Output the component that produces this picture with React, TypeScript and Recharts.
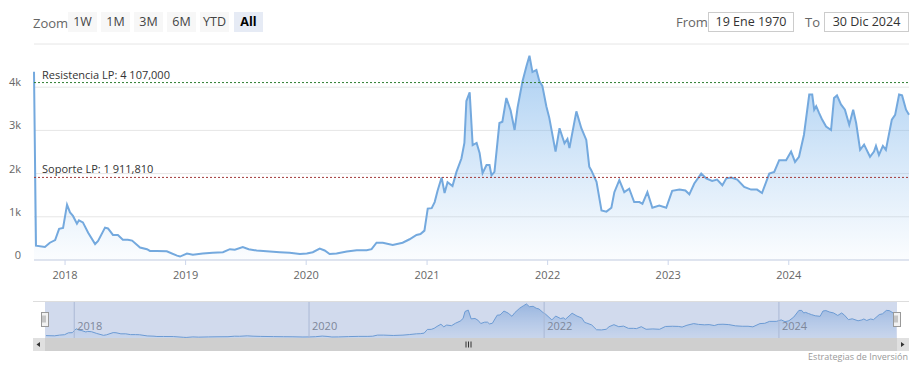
import { AreaChart, Area, XAxis, YAxis, CartesianGrid, ReferenceLine } from 'recharts';

// weekly-ish closes
const dates = [
  '2017-09-29', '2017-10-05', '2017-11-01', '2017-11-16', '2017-12-02', '2017-12-14', '2017-12-26',
  '2018-01-07', '2018-01-16', '2018-01-25', '2018-02-06', '2018-02-12', '2018-02-24', '2018-03-12',
  '2018-04-02', '2018-04-11', '2018-05-02', '2018-05-11', '2018-05-26', '2018-06-10', '2018-06-25',
  '2018-07-10', '2018-07-23', '2018-08-16', '2018-09-06', '2018-09-15', '2018-10-06', '2018-11-05',
  '2018-12-06', '2018-12-15', '2019-01-05', '2019-01-23', '2019-02-22', '2019-03-24', '2019-04-24',
  '2019-05-15', '2019-05-30', '2019-06-23', '2019-07-11', '2019-08-04', '2019-09-13', '2019-10-13',
  '2019-11-12', '2019-12-13', '2020-01-03', '2020-01-21', '2020-02-11', '2020-02-26', '2020-03-12',
  '2020-04-02', '2020-05-03', '2020-06-02', '2020-07-02', '2020-07-17', '2020-08-01', '2020-08-20',
  '2020-09-19', '2020-10-19', '2020-11-09', '2020-11-30', '2020-12-12', '2020-12-24', '2021-01-03',
  '2021-01-15', '2021-01-24', '2021-02-02', '2021-02-14', '2021-02-23', '2021-03-04', '2021-03-19',
  '2021-03-31', '2021-04-15', '2021-04-24', '2021-04-30', '2021-05-10', '2021-05-19', '2021-05-31',
  '2021-06-09', '2021-06-18', '2021-06-30', '2021-07-09', '2021-07-15', '2021-07-24', '2021-08-08',
  '2021-08-17', '2021-08-29', '2021-09-11', '2021-09-23', '2021-10-02', '2021-10-17', '2021-10-29',
  '2021-11-07', '2021-11-16', '2021-11-28', '2021-12-07', '2021-12-16', '2021-12-28', '2022-01-06',
  '2022-01-25', '2022-02-06', '2022-02-21', '2022-03-02', '2022-03-08', '2022-03-29', '2022-04-13',
  '2022-04-28', '2022-05-07', '2022-05-13', '2022-05-29', '2022-06-13', '2022-06-28', '2022-07-13',
  '2022-07-22', '2022-08-06', '2022-08-21', '2022-09-05', '2022-09-20', '2022-10-06', '2022-10-15',
  '2022-10-30', '2022-11-14', '2022-12-05', '2022-12-26', '2023-01-13', '2023-02-04', '2023-02-22',
  '2023-03-06', '2023-03-21', '2023-04-11', '2023-04-26', '2023-05-14', '2023-05-29', '2023-06-14',
  '2023-06-26', '2023-07-11', '2023-07-29', '2023-08-19', '2023-09-09', '2023-09-27', '2023-10-12',
  '2023-11-03', '2023-11-18', '2023-12-03', '2023-12-24', '2024-01-08', '2024-01-20', '2024-02-01',
  '2024-02-16', '2024-03-03', '2024-03-12', '2024-03-18', '2024-03-24', '2024-04-02', '2024-04-11',
  '2024-04-23', '2024-05-08', '2024-05-17', '2024-05-26', '2024-06-07', '2024-06-19', '2024-07-02',
  '2024-07-14', '2024-07-23', '2024-08-04', '2024-08-16', '2024-09-03', '2024-09-15', '2024-09-21',
  '2024-09-30', '2024-10-12', '2024-10-21', '2024-11-08', '2024-11-18', '2024-11-30', '2024-12-09',
  '2024-12-21', '2024-12-30',
];

const values = [
  4360, 330, 300, 400, 460, 720, 740,
  1280, 1100, 1020, 840, 920, 870, 630,
  370, 440, 750, 730, 580, 580, 470,
  470, 450, 290, 250, 210, 210, 200,
  100, 80, 150, 120, 150, 170, 180,
  250, 240, 300, 250, 220, 195, 180,
  170, 140, 150, 180, 265, 220, 140,
  150, 195, 225, 225, 250, 400, 400,
  350, 400, 480, 580, 600, 680, 1190,
  1200, 1340, 1610, 1910, 1550, 1800, 1710,
  2040, 2350, 2710, 3680, 3880, 2660, 2710,
  2480, 2010, 2200, 2200, 1960, 2040, 3170,
  3200, 3750, 3460, 3010, 3530, 4140, 4490,
  4730, 4350, 4400, 4140, 4030, 3560, 3290,
  2510, 3050, 2700, 2800, 2590, 3440, 3050,
  2780, 2160, 2080, 1810, 1145, 1120, 1210,
  1570, 1850, 1570, 1650, 1340, 1340, 1300,
  1570, 1210, 1260, 1210, 1600, 1630, 1610,
  1520, 1770, 2000, 1890, 1830, 1860, 1730,
  1890, 1910, 1860, 1690, 1630, 1630, 1550,
  2000, 2040, 2310, 2310, 2510, 2270, 2390,
  2900, 3830, 3830, 3480, 3560, 3400, 3250,
  3090, 3010, 3750, 3810, 3600, 3480, 3130,
  3480, 3170, 2550, 2670, 2390, 2510, 2640,
  2430, 2640, 2550, 3250, 3360, 3830, 3810,
  3480, 3360,
];

const yearTicks = ['2018-01-01', '2019-01-01', '2020-01-01', '2021-01-01', '2022-01-01', '2023-01-01', '2024-01-01'];
const navYearTicks = ['2018-01-01', '2020-01-01', '2022-01-01', '2024-01-01'];
const yTicks = [0, 1000, 2000, 3000, 4000, 5000];

const resistance = 4107;
const support = 1911.81;

const rangeButtons = ['1W', '1M', '3M', '6M', 'YTD', 'All'];
const fromText = '19 Ene 1970';
const toText = '30 Dic 2024';

const data = dates.map((d, i) => ({ t: Date.parse(d), v: values[i] }));
const navData = data.slice(1);
const tMin = data[0].t;
const tMax = data[data.length - 1].t;

const FONT = '"Open Sans", "DejaVu Sans", sans-serif';

const fmtLevel = (n: number) => {
  const [int, dec] = n.toFixed(3).split('.');
  return int.replace(/\B(?=(\d{3})+(?!\d))/g, ' ') + ',' + dec;
};

const YTick = (props: any) => {
  const { y, payload } = props;
  if (payload.value === 5000) return null;
  const label = payload.value === 0 ? '0' : payload.value / 1000 + 'k';
  return (
    <text x={21} y={y - 1} textAnchor="end" fill="#666" fontSize={11} fontFamily={FONT}>
      {label}
    </text>
  );
};

const XTick = (props: any) => {
  const { x, y, payload } = props;
  return (
    <text x={x} y={y + 12} textAnchor="middle" fill="#666" fontSize={11} fontFamily={FONT}>
      {new Date(payload.value).getUTCFullYear()}
    </text>
  );
};

const levelLabel = (text: string) => (props: any) => {
  const { viewBox } = props;
  return (
    <text x={viewBox.x + 8} y={viewBox.y - 4} fill="#333" fontSize={11} fontFamily={FONT}>
      {text}
    </text>
  );
};

const NavLabel = (props: any) => {
  const { viewBox, value } = props;
  return (
    <text x={viewBox.x + 3} y={28} fill="#888" fontSize={11} fontFamily={FONT}>
      {value}
    </text>
  );
};

export default function App() {
  return (
    <div style={{ position: 'absolute', left: 0, top: 0, width: 919, height: 369, background: '#fff', fontFamily: FONT }}>
      <div style={{ position: 'absolute', left: 0, top: 0 }}>
        <AreaChart width={919} height={300} data={data} margin={{ top: 44, right: 10, bottom: 10, left: 0 }}>
          <defs>
            <linearGradient id="mainFill" x1="0" y1="0" x2="0" y2="1">
              <stop offset="0%" stopColor="#6aaae8" stopOpacity={0.95} />
              <stop offset="100%" stopColor="#7cb5ec" stopOpacity={0.05} />
            </linearGradient>
          </defs>
          <CartesianGrid vertical={false} stroke="#e6e6e6" />
          <XAxis
            dataKey="t"
            type="number"
            scale="time"
            domain={[tMin, tMax]}
            ticks={yearTicks.map((d) => Date.parse(d))}
            height={30}
            stroke="#ccd6eb"
            tickSize={5}
            tick={<XTick />}
            interval={0}
          />
          <YAxis
            domain={[0, 5000]}
            ticks={yTicks}
            width={34}
            axisLine={false}
            tickLine={false}
            tick={<YTick />}
            interval={0}
          />
          <Area
            type="linear"
            dataKey="v"
            stroke="#74a9de"
            strokeWidth={2}
            fill="url(#mainFill)"
            isAnimationActive={false}
            dot={false}
            activeDot={false}
          />
          <ReferenceLine
            y={resistance}
            stroke="#2e7d32"
            strokeDasharray="2 2"
            label={levelLabel('Resistencia LP: ' + fmtLevel(resistance))}
          />
          <ReferenceLine
            y={support}
            stroke="#a33a3a"
            strokeDasharray="2 2"
            label={levelLabel('Soporte LP: ' + fmtLevel(support))}
          />
        </AreaChart>
      </div>

      {/* range selector */}
      <div style={{ position: 'absolute', left: 33, top: 14, fontSize: 13, color: '#666', lineHeight: '18px' }}>Zoom</div>
      {rangeButtons.map((b, i) => {
        const lefts = [68, 101, 134, 167, 200, 234];
        const sel = b === 'All';
        return (
          <div
            key={b}
            style={{
              position: 'absolute',
              left: lefts[i],
              top: 12,
              width: 29,
              height: 20,
              lineHeight: '20px',
              textAlign: 'center',
              fontSize: 12.5,
              background: sel ? '#e6ebf5' : '#f7f7f7',
              color: sel ? '#000' : '#444',
              fontWeight: sel ? 700 : 400,
            }}
          >
            {b}
          </div>
        );
      })}

      {/* date inputs */}
      <div style={{ position: 'absolute', left: 676, top: 13, fontSize: 13, color: '#666', lineHeight: '18px' }}>From</div>
      <div style={{ position: 'absolute', left: 708, top: 12, width: 84, height: 18, border: '1px solid #ccc', fontSize: 12.5, color: '#333', textAlign: 'center', lineHeight: '18px' }}>
        {fromText}
      </div>
      <div style={{ position: 'absolute', left: 805, top: 13, fontSize: 13, color: '#666', lineHeight: '18px' }}>To</div>
      <div style={{ position: 'absolute', left: 824, top: 12, width: 83, height: 18, border: '1px solid #ccc', fontSize: 12.5, color: '#333', textAlign: 'center', lineHeight: '18px' }}>
        {toText}
      </div>

      {/* navigator */}
      <div style={{ position: 'absolute', left: 33, top: 301, width: 876, height: 1, background: '#dddddd' }} />
      <div style={{ position: 'absolute', left: 44, top: 302 }}>
        <AreaChart width={852} height={36} data={navData} margin={{ top: 0, right: 0, bottom: 0, left: 0 }}>
          <defs>
            <linearGradient id="navFill" x1="0" y1="0" x2="0" y2="1">
              <stop offset="0%" stopColor="#5a93d6" stopOpacity={0.8} />
              <stop offset="100%" stopColor="#7cb5ec" stopOpacity={0.15} />
            </linearGradient>
          </defs>
          <XAxis dataKey="t" type="number" scale="time" domain={[tMin, tMax]} hide />
          <YAxis domain={[0, 5000]} hide />
          {navYearTicks.map((d) => (
            <ReferenceLine
              key={d}
              x={Date.parse(d)}
              stroke="#c8cfdd"
              label={<NavLabel value={d.slice(0, 4)} />}
            />
          ))}
          <Area
            type="linear"
            dataKey="v"
            stroke="#6fa5db"
            strokeWidth={1}
            fill="url(#navFill)"
            isAnimationActive={false}
            dot={false}
            activeDot={false}
          />
        </AreaChart>
      </div>
      <div style={{ position: 'absolute', left: 45, top: 302, width: 852, height: 36, background: 'rgba(102,133,194,0.3)' }} />
      {/* handles */}
      <div style={{ position: 'absolute', left: 41, top: 312, width: 6, height: 13, background: '#f2f2f2', border: '1px solid #999' }} />
      <div style={{ position: 'absolute', left: 893, top: 312, width: 6, height: 13, background: '#f2f2f2', border: '1px solid #999' }} />

      {/* scrollbar */}
      <div style={{ position: 'absolute', left: 33, top: 338, width: 876, height: 13, background: '#cfcfcf' }} />
      <div style={{ position: 'absolute', left: 33, top: 338, width: 12, height: 13, background: '#e0e0e0' }} />
      <div style={{ position: 'absolute', left: 897, top: 338, width: 12, height: 13, background: '#e0e0e0' }} />
      <svg style={{ position: 'absolute', left: 0, top: 0 }} width={919} height={369}>
        <path d="M40,342 L36.5,344.5 L40,347 Z" fill="#333" />
        <path d="M901,342 L904.5,344.5 L901,347 Z" fill="#333" />
        <path d="M466,341.5 V347.5 M468.5,341.5 V347.5 M471,341.5 V347.5" stroke="#333" strokeWidth={1} />
        <path d="M43,315.5 V322.5 M45,315.5 V322.5 M895,315.5 V322.5 M897,315.5 V322.5" stroke="#999" strokeWidth={1} />
        <text x={908} y={360} textAnchor="end" fontSize={9} fill="#999" fontFamily={FONT}>
          Estrategias de Inversión
        </text>
      </svg>
    </div>
  );
}
